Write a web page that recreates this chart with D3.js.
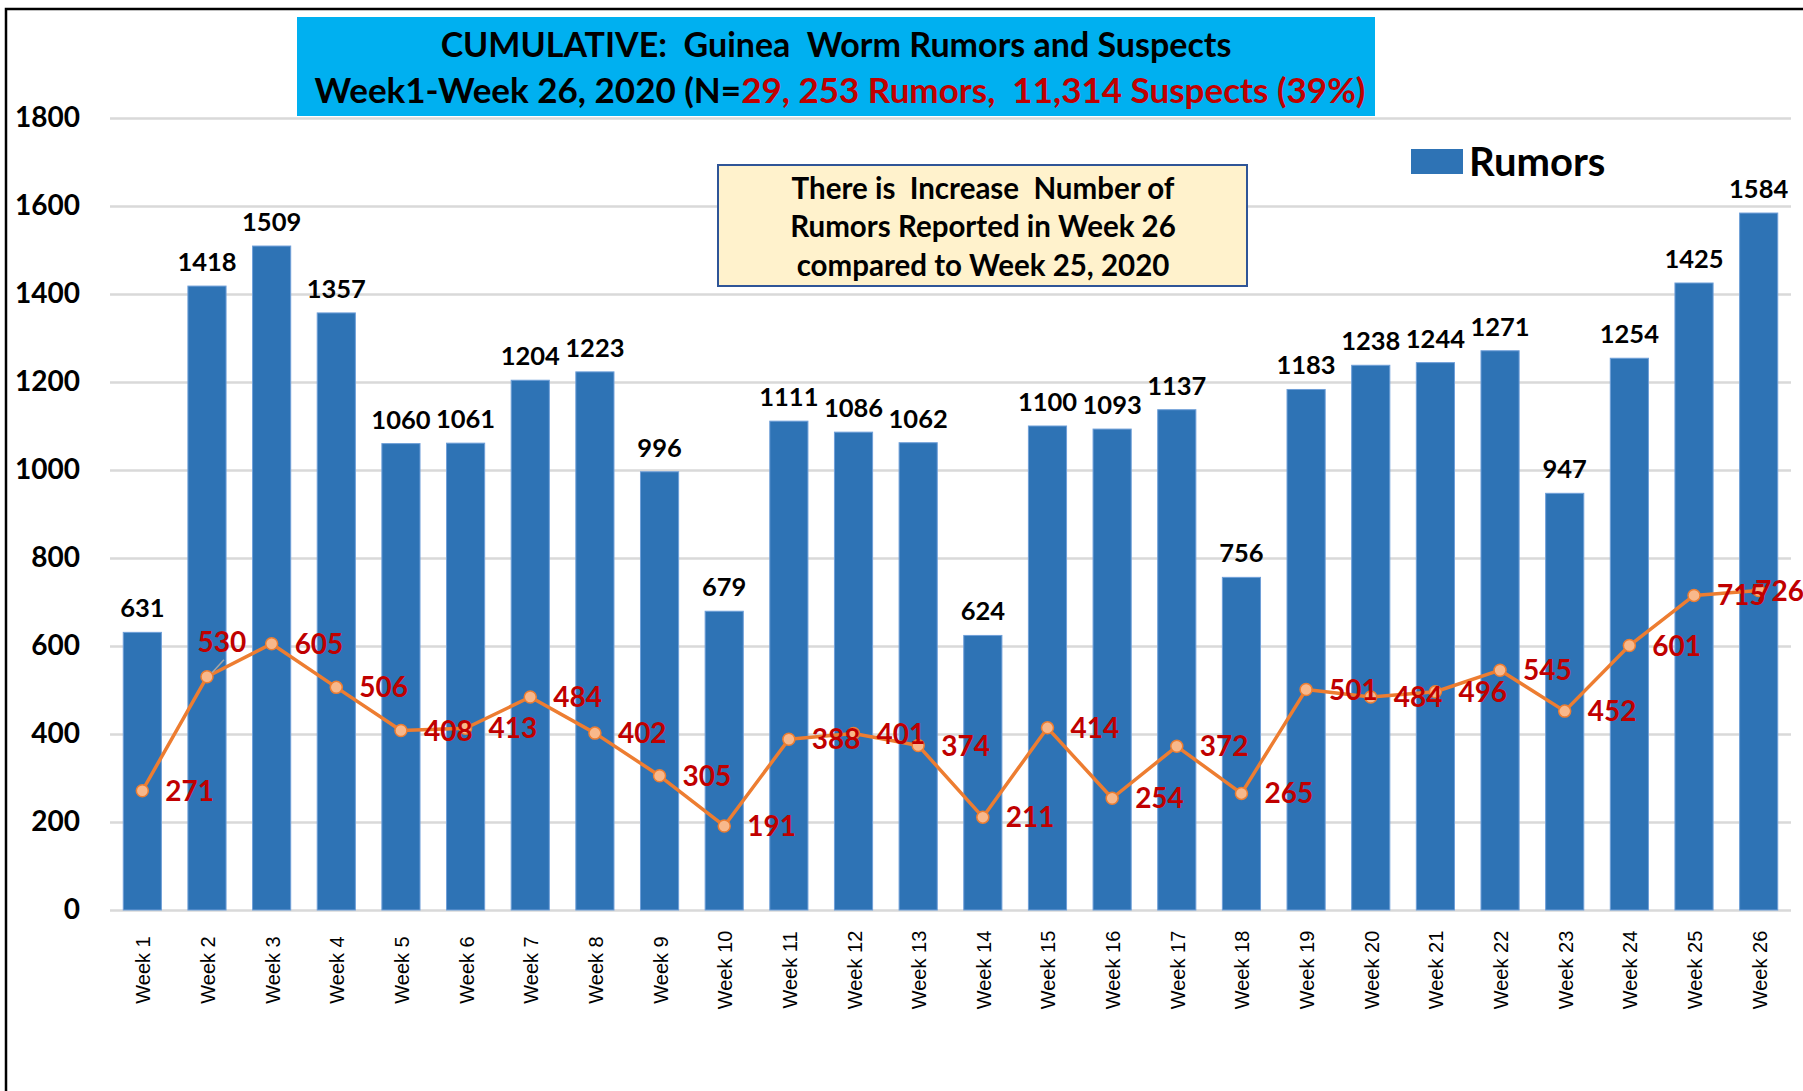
<!DOCTYPE html>
<html>
<head>
<meta charset="utf-8">
<script src="https://cdn.jsdelivr.net/npm/d3@7"></script>
<style>
  body { margin: 0; background: #fff; }
  text { white-space: pre; }
</style>
</head>
<body>
<div id="chart"></div>
<script>
const width = 1803;
const height = 1091;

const weeks = d3.range(1, 27).map(i => "Week " + i);
const rumors = [631, 1418, 1509, 1357, 1060, 1061, 1204, 1223, 996, 679, 1111, 1086, 1062,
                624, 1100, 1093, 1137, 756, 1183, 1238, 1244, 1271, 947, 1254, 1425, 1584];
const suspects = [271, 530, 605, 506, 408, 413, 484, 402, 305, 191, 388, 401, 374,
                  211, 414, 254, 372, 265, 501, 484, 496, 545, 452, 601, 715, 726];
const yTicks = [0, 200, 400, 600, 800, 1000, 1200, 1400, 1600, 1800];
const titleLine1 = "CUMULATIVE:  Guinea  Worm Rumors and Suspects";
const titleLine2a = "Week1-Week 26, 2020 (N=";
const titleLine2b = "29, 253 Rumors,  11,314 Suspects (39%)";
const noteLines = ["There is  Increase  Number of", "Rumors Reported in Week 26", "compared to Week 25, 2020"];

const calibri = "Lato, 'Open Sans', sans-serif";

const svg = d3.select("#chart")
    .append("svg")
    .attr("width", width)
    .attr("height", height);

// outer frame
svg.append("rect")
    .attr("x", 6).attr("y", 9)
    .attr("width", 1820).attr("height", 1100)
    .attr("fill", "#fff")
    .attr("stroke", "#000")
    .attr("stroke-width", 2.5);

const x = d3.scaleBand()
    .domain(weeks)
    .range([110, 1791])
    .paddingInner(0.41)
    .paddingOuter(0.205);

const y = d3.scaleLinear()
    .domain([0, 1800])
    .range([910, 118]);

// gridlines + y labels
const yAxis = svg.append("g")
    .attr("transform", "translate(110,0)")
    .call(d3.axisLeft(y).tickValues(yTicks).tickSize(-1681).tickFormat(d3.format("d")));
yAxis.select(".domain").remove();
yAxis.selectAll(".tick line")
    .attr("stroke", "#d9d9d9")
    .attr("stroke-width", 2.5);
yAxis.selectAll(".tick text")
    .attr("x", -30)
    .attr("font-family", calibri)
    .attr("font-weight", "bold")
    .attr("font-size", 28)
    .attr("fill", "#000");

// bars
svg.selectAll(".bar")
    .data(rumors)
    .enter()
    .append("rect")
    .attr("class", "bar")
    .attr("x", (d, i) => x(weeks[i]))
    .attr("y", d => y(d))
    .attr("width", x.bandwidth())
    .attr("height", d => y(0) - y(d))
    .attr("fill", "#2e73b5")
    .attr("stroke", "#6f9fd8")
    .attr("stroke-width", 1);

svg.selectAll(".barLabel")
    .data(rumors)
    .enter()
    .append("text")
    .attr("class", "barLabel")
    .attr("x", (d, i) => x(weeks[i]) + x.bandwidth() / 2)
    .attr("y", d => y(d) - 15)
    .attr("text-anchor", "middle")
    .attr("font-family", calibri)
    .attr("font-weight", "bold")
    .attr("font-size", 25.5)
    .attr("fill", "#000")
    .text(d => d);

// x labels
svg.selectAll(".xLabel")
    .data(weeks)
    .enter()
    .append("text")
    .attr("class", "xLabel")
    .attr("transform", d => `translate(${x(d) + x.bandwidth() / 2 + 1},970) rotate(-90)`)
    .attr("text-anchor", "middle")
    .attr("dy", "0.35em")
    .attr("font-family", "'Liberation Sans', Arial, sans-serif")
    .attr("font-size", 20)
    .attr("fill", "#000")
    .text(d => d);

// suspects line
const cx = i => x(weeks[i]) + x.bandwidth() / 2;
const line = d3.line()
    .x((d, i) => cx(i))
    .y(d => y(d));

svg.append("path")
    .datum(suspects)
    .attr("d", line)
    .attr("fill", "none")
    .attr("stroke", "#ed7d31")
    .attr("stroke-width", 3.5)
    .attr("stroke-linejoin", "round");

// leader line for week 2 label
svg.append("line")
    .attr("x1", cx(1) + 5).attr("y1", y(suspects[1]) - 4)
    .attr("x2", cx(1) + 17).attr("y2", y(suspects[1]) - 17)
    .attr("stroke", "#a6a6a6")
    .attr("stroke-width", 1.5);

svg.selectAll(".dot")
    .data(suspects)
    .enter()
    .append("circle")
    .attr("class", "dot")
    .attr("cx", (d, i) => cx(i))
    .attr("cy", d => y(d))
    .attr("r", 6)
    .attr("fill", "#f8b88b")
    .attr("stroke", "#ed7d31")
    .attr("stroke-width", 1.5);

// label placement: to the right of the point, except a few
const labelDx = i => i === 1 ? 15 : 23;
const labelDy = i => i === 1 ? -35 : 0;
const labelAnchor = i => i === 1 ? "middle" : (i === 25 ? "end" : "start");

svg.selectAll(".lineLabel")
    .data(suspects)
    .enter()
    .append("text")
    .attr("class", "lineLabel")
    .attr("x", (d, i) => i === 25 ? width + 1 : cx(i) + labelDx(i))
    .attr("y", (d, i) => y(d) + labelDy(i))
    .attr("dy", "0.36em")
    .attr("text-anchor", (d, i) => labelAnchor(i))
    .attr("font-family", calibri)
    .attr("font-weight", "bold")
    .attr("font-size", 28)
    .attr("fill", "#c00000")
    .text(d => d);

// title box
svg.append("rect")
    .attr("x", 297).attr("y", 17)
    .attr("width", 1078).attr("height", 99)
    .attr("fill", "#00b0f0");

svg.append("text")
    .attr("x", 836).attr("y", 45)
    .attr("dy", "0.36em")
    .attr("text-anchor", "middle")
    .attr("font-family", calibri)
    .attr("font-weight", "bold")
    .attr("font-size", 34)
    .attr("fill", "#000")
    .text(titleLine1);

const t2 = svg.append("text")
    .attr("x", 840).attr("y", 90)
    .attr("dy", "0.36em")
    .attr("text-anchor", "middle")
    .attr("font-family", calibri)
    .attr("font-weight", "bold")
    .attr("font-size", 35);
t2.append("tspan").attr("fill", "#000").text(titleLine2a);
t2.append("tspan").attr("fill", "#c00000").text(titleLine2b);

// legend
svg.append("rect")
    .attr("x", 1411).attr("y", 149)
    .attr("width", 52).attr("height", 25)
    .attr("fill", "#2e73b5");
svg.append("text")
    .attr("x", 1469).attr("y", 162)
    .attr("dy", "0.36em")
    .attr("font-family", calibri)
    .attr("font-weight", "bold")
    .attr("font-size", 40)
    .attr("fill", "#000")
    .text("Rumors");

// note box
svg.append("rect")
    .attr("x", 718).attr("y", 165)
    .attr("width", 529).attr("height", 121)
    .attr("fill", "#fff2cc")
    .attr("stroke", "#2f5597")
    .attr("stroke-width", 2);

svg.selectAll(".note")
    .data(noteLines)
    .enter()
    .append("text")
    .attr("class", "note")
    .attr("x", 983)
    .attr("y", (d, i) => 188 + i * 38.5)
    .attr("dy", "0.36em")
    .attr("text-anchor", "middle")
    .attr("font-family", calibri)
    .attr("font-weight", "bold")
    .attr("font-size", 29.5)
    .attr("fill", "#000")
    .text(d => d);
</script>
</body>
</html>
